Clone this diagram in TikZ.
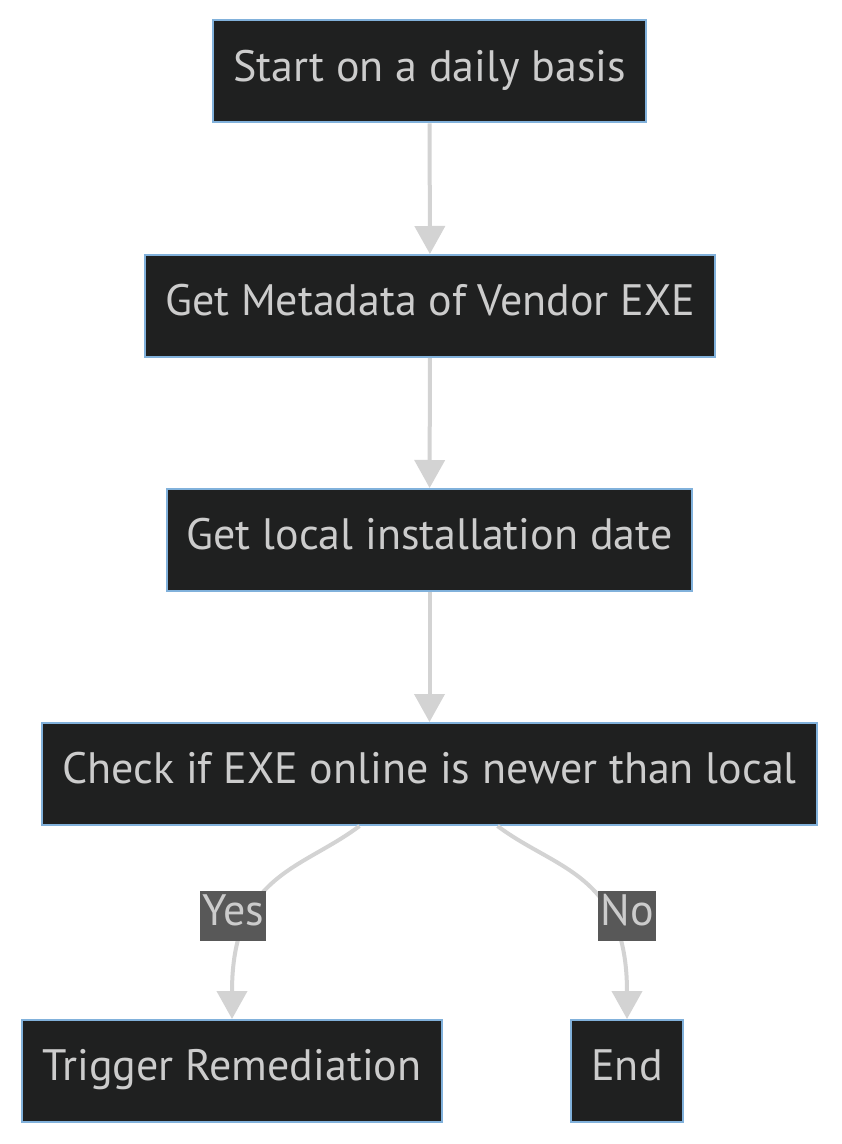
\documentclass[tikz,border=0pt]{standalone}
\usepackage{fontspec}
\setmainfont{PT Sans}
\usetikzlibrary{arrows.meta}
\definecolor{boxfill}{HTML}{1F2020}
\definecolor{boxline}{HTML}{81B1DB}
\definecolor{boxtext}{HTML}{CCCCCC}
\definecolor{flowline}{HTML}{D3D3D3}
\definecolor{answerfill}{HTML}{585858}

\begin{document}
\begin{tikzpicture}[x=0.5pt,y=-0.5pt,
  stepbox/.style={draw=boxline, line width=1pt, fill=boxfill, text=boxtext,
    minimum height=51pt, inner xsep=10pt, text height=15.4pt, text depth=5.5pt,
    font=\fontsize{22}{26}\selectfont},
  flow/.style={draw=flowline, line width=2pt, -{Triangle[width=15pt,length=14pt]}},
  answer/.style={fill=answerfill, text=boxtext, inner xsep=1pt, inner ysep=0pt,
    minimum height=25pt, text height=15.4pt, text depth=5.5pt,
    font=\fontsize{22}{26}\selectfont}]
  \useasboundingbox[fill=white] (0,0) rectangle (841,1144);

  \node [stepbox] (start) at (429.5,71.5) {Start on a daily basis};
  \node [stepbox] (meta) at (430,306) {Get Metadata of Vendor EXE};
  \node [stepbox] (local) at (429.5,540) {Get local installation date};
  \node [stepbox] (check) at (429.5,774) {Check if EXE online is newer than local};
  \node [stepbox] (trigger) at (232,1071) {Trigger Remediation};
  \node [stepbox] (end) at (627,1071) {End};

  \draw [flow] (start) -- (meta);
  \draw [flow] (meta) -- (local);
  \draw [flow] (local) -- (check);
  \draw [flow] ([xshift=-35pt]check.south) to [out=-143, in=90,
    out looseness=0.8, in looseness=1.6] (trigger.north);
  \draw [flow] ([xshift=34pt]check.south) to [out=-37, in=90,
    out looseness=0.8, in looseness=1.6] (end.north);

  \node [answer] (yes) at (233,916) {Yes};
  \node [answer] (no) at (627,916) {No};
\end{tikzpicture}
\end{document}
